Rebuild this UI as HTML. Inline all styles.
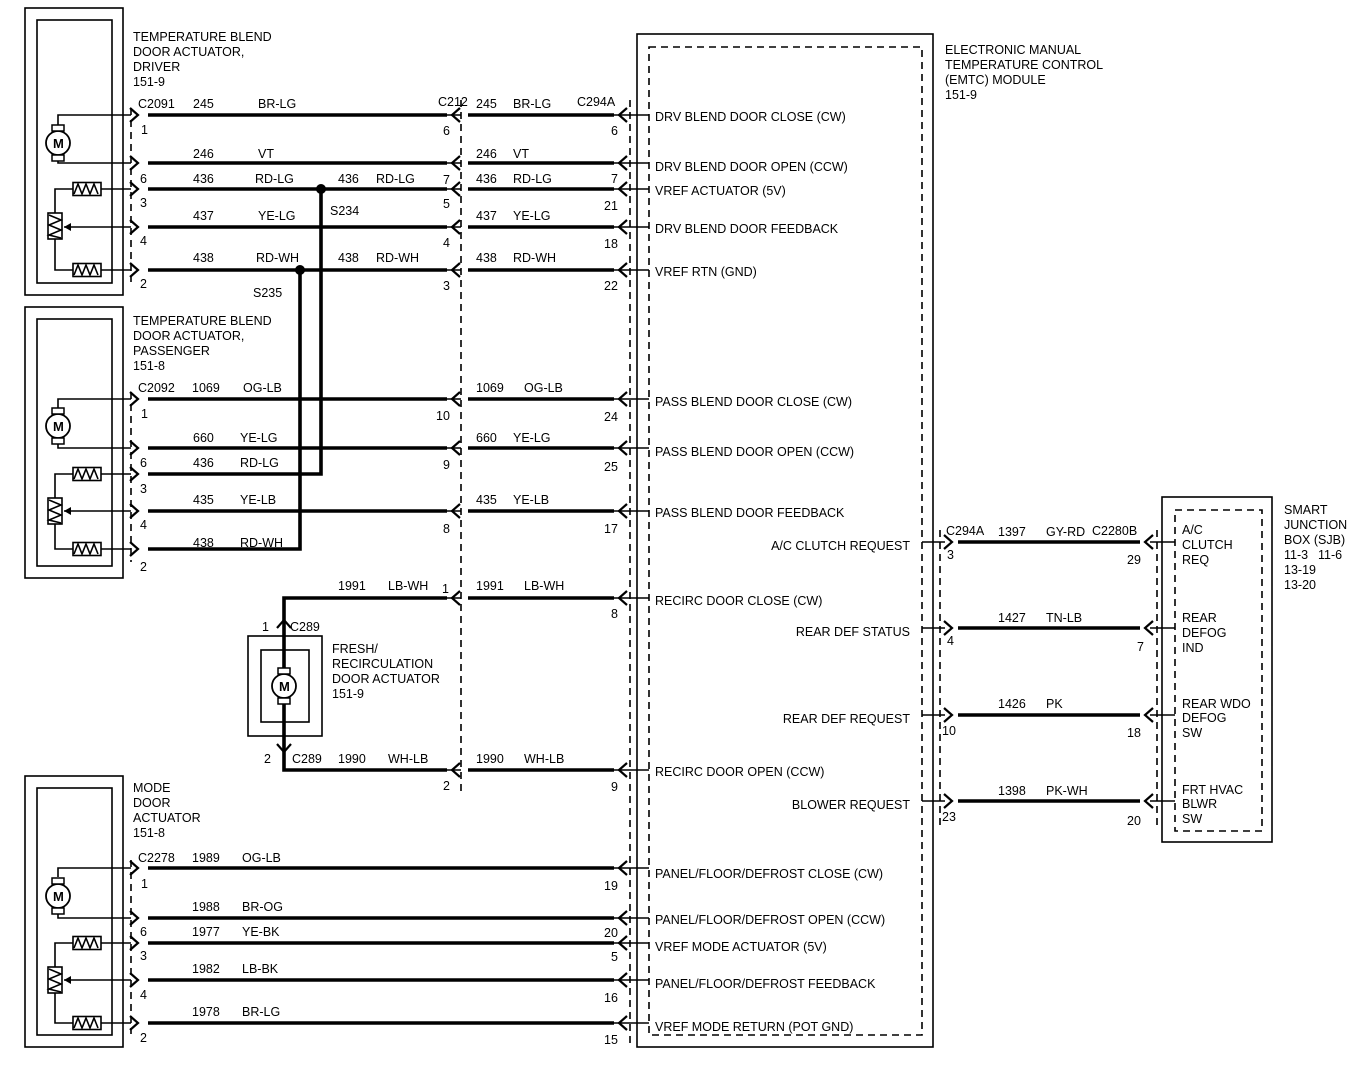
<!DOCTYPE html>
<html><head><meta charset="utf-8"><style>
html,body{margin:0;padding:0;background:#fff}
svg{display:block}
text{font-family:"Liberation Sans",sans-serif;font-size:12.5px;fill:#000}
.t{fill:none;stroke:#000;stroke-width:1.6}
.k{fill:none;stroke:#000;stroke-width:3.6}
.d{fill:none;stroke:#000;stroke-width:1.6;stroke-dasharray:7,5}
</style></head><body>
<svg width="1360" height="1072" viewBox="0 0 1360 1072" xmlns="http://www.w3.org/2000/svg">
<defs>
<path id="cr" d="M-5,-7 L3,0 L-5,7" fill="none" stroke="#000" stroke-width="2.2"/>
<path id="cl" d="M5,-7 L-3,0 L5,7" fill="none" stroke="#000" stroke-width="2.2"/>
<g id="mot"><circle cx="0" cy="0" r="12" fill="#fff" stroke="#000" stroke-width="1.8"/><rect x="-6" y="-18" width="12" height="6" fill="#fff" stroke="#000" stroke-width="1.5"/><rect x="-6" y="12" width="12" height="6" fill="#fff" stroke="#000" stroke-width="1.5"/><text x="-5" y="5" style="font-size:13px;font-weight:bold">M</text></g>
<g id="res"><rect x="-14" y="-6.5" width="28" height="13" fill="#fff" stroke="#000" stroke-width="1.6"/><path d="M-13,5 L-9,-5 L-5,5 L-1,-5 L3,5 L7,-5 L11,5" fill="none" stroke="#000" stroke-width="1.6"/></g>
<g id="pot"><rect x="-7" y="-13" width="14" height="26" fill="#fff" stroke="#000" stroke-width="1.6"/><path d="M-6,-11 L6,-6 L-6,-1 L6,4 L-6,9 L6,12" fill="none" stroke="#000" stroke-width="1.6"/></g>
</defs>

<!-- EMTC module -->
<rect x="637" y="34" width="296" height="1013" class="t"/>
<rect x="649" y="47" width="273" height="988" class="d"/>
<text x="945" y="54">ELECTRONIC MANUAL</text><text x="945" y="69">TEMPERATURE CONTROL</text><text x="945" y="84">(EMTC) MODULE</text><text x="945" y="99">151-9</text>

<!-- connector dashed lines -->
<line x1="630" y1="100" x2="630" y2="1044" class="d"/>
<line x1="461" y1="100" x2="461" y2="792" class="d"/>
<line x1="131" y1="108" x2="131" y2="282" class="d"/>
<line x1="131" y1="392" x2="131" y2="562" class="d"/>
<line x1="131" y1="860" x2="131" y2="1034" class="d"/>
<line x1="940" y1="530" x2="940" y2="830" class="d"/>
<line x1="1157" y1="530" x2="1157" y2="830" class="d"/>

<!-- ========== DRIVER ACTUATOR ========== -->
<rect x="25" y="8" width="98" height="287" class="t"/>
<rect x="37" y="20" width="75" height="263" class="t"/>
<text x="133" y="41">TEMPERATURE BLEND</text><text x="133" y="56">DOOR ACTUATOR,</text><text x="133" y="71">DRIVER</text><text x="133" y="86">151-9</text>
<path d="M58,125 V115 H131 M58,161 V163 H131" class="t"/>
<use href="#mot" x="58" y="143"/>
<path d="M101,189 H131 M73,189 H55 V213 M55,239 V270 H73 M101,270 H131 M131,227 H64" class="t"/>
<path d="M64,227 l7,-4 v8z"/>
<use href="#res" x="87" y="189"/><use href="#res" x="87" y="270"/><use href="#pot" x="55" y="226"/>

<!-- ========== PASSENGER ACTUATOR ========== -->
<rect x="25" y="307" width="98" height="271" class="t"/>
<rect x="37" y="319" width="75" height="247" class="t"/>
<text x="133" y="325">TEMPERATURE BLEND</text><text x="133" y="340">DOOR ACTUATOR,</text><text x="133" y="355">PASSENGER</text><text x="133" y="370">151-8</text>
<path d="M58,408 V399 H131 M58,444 V448 H131" class="t"/>
<use href="#mot" x="58" y="426"/>
<path d="M101,474 H131 M73,474 H55 V498 M55,524 V549 H73 M101,549 H131 M131,511 H64" class="t"/>
<path d="M64,511 l7,-4 v8z"/>
<use href="#res" x="87" y="474"/><use href="#res" x="87" y="549"/><use href="#pot" x="55" y="511"/>

<!-- ========== MODE ACTUATOR ========== -->
<rect x="25" y="776" width="98" height="271" class="t"/>
<rect x="37" y="788" width="75" height="247" class="t"/>
<text x="133" y="792">MODE</text><text x="133" y="807">DOOR</text><text x="133" y="822">ACTUATOR</text><text x="133" y="837">151-8</text>
<path d="M58,877 V868 H131 M58,914 V918 H131" class="t"/>
<use href="#mot" x="58" y="896"/>
<path d="M101,943 H131 M73,943 H55 V967 M55,993 V1023 H73 M101,1023 H131 M131,980 H64" class="t"/>
<path d="M64,980 l7,-4 v8z"/>
<use href="#res" x="87" y="943"/><use href="#res" x="87" y="1023"/><use href="#pot" x="55" y="980"/>

<!-- ===== wires: driver ===== -->
<g>
<path d="M148,115 H447 M468,115 H614 M148,163 H447 M468,163 H614 M148,189 H447 M468,189 H614 M148,227 H447 M468,227 H614 M148,270 H447 M468,270 H614" class="k"/>
<path d="M447,115 H461 M447,163 H461 M447,189 H461 M447,227 H461 M447,270 H461 M614,115 H649 M614,163 H649 M614,189 H649 M614,227 H649 M614,270 H649" class="t"/>
<use href="#cr" x="135" y="115"/><use href="#cr" x="135" y="163"/><use href="#cr" x="135" y="189"/><use href="#cr" x="135" y="227"/><use href="#cr" x="135" y="270"/>
<use href="#cl" x="455" y="115"/><use href="#cl" x="455" y="163"/><use href="#cl" x="455" y="189"/><use href="#cl" x="455" y="227"/><use href="#cl" x="455" y="270"/>
<use href="#cl" x="622" y="115"/><use href="#cl" x="622" y="163"/><use href="#cl" x="622" y="189"/><use href="#cl" x="622" y="227"/><use href="#cl" x="622" y="270"/>
</g>
<!-- splices -->
<path d="M321,189 V474 H148 M300,270 V549 H148" class="k"/>
<circle cx="321" cy="189" r="5"/><circle cx="300" cy="270" r="5"/>
<text x="330" y="215">S234</text><text x="253" y="297">S235</text>

<!-- ===== wires: passenger ===== -->
<path d="M148,399 H447 M468,399 H614 M148,448 H447 M468,448 H614 M148,511 H447 M468,511 H614" class="k"/>
<path d="M447,399 H461 M447,448 H461 M447,511 H461 M614,399 H649 M614,448 H649 M614,511 H649" class="t"/>
<use href="#cr" x="135" y="399"/><use href="#cr" x="135" y="448"/><use href="#cr" x="135" y="474"/><use href="#cr" x="135" y="511"/><use href="#cr" x="135" y="549"/>
<use href="#cl" x="455" y="399"/><use href="#cl" x="455" y="448"/><use href="#cl" x="455" y="511"/>
<use href="#cl" x="622" y="399"/><use href="#cl" x="622" y="448"/><use href="#cl" x="622" y="511"/>

<!-- ===== recirc ===== -->
<rect x="248" y="636" width="74" height="100" class="t"/>
<rect x="261" y="650" width="48" height="72" class="t"/>
<path d="M447,598 H284 V770 H447 M468,598 H614 M468,770 H614" class="k"/>
<path d="M447,598 H461 M447,770 H461 M614,598 H649 M614,770 H649" class="t"/>
<use href="#mot" x="284" y="686"/>
<path d="M277,628 L284,620 L291,628" fill="none" stroke="#000" stroke-width="2.2"/>
<path d="M277,744 L284,752 L291,744" fill="none" stroke="#000" stroke-width="2.2"/>
<use href="#cl" x="455" y="598"/><use href="#cl" x="455" y="770"/><use href="#cl" x="622" y="598"/><use href="#cl" x="622" y="770"/>
<text x="332" y="653">FRESH/</text><text x="332" y="668">RECIRCULATION</text><text x="332" y="683">DOOR ACTUATOR</text><text x="332" y="698">151-9</text>
<text x="262" y="631">1</text><text x="290" y="631">C289</text>
<text x="264" y="763">2</text><text x="292" y="763">C289</text>

<!-- ===== mode wires ===== -->
<path d="M148,868 H614 M148,918 H614 M148,943 H614 M148,980 H614 M148,1023 H614" class="k"/>
<path d="M614,868 H649 M614,918 H649 M614,943 H649 M614,980 H649 M614,1023 H649" class="t"/>
<use href="#cr" x="135" y="868"/><use href="#cr" x="135" y="918"/><use href="#cr" x="135" y="943"/><use href="#cr" x="135" y="980"/><use href="#cr" x="135" y="1023"/>
<use href="#cl" x="622" y="868"/><use href="#cl" x="622" y="918"/><use href="#cl" x="622" y="943"/><use href="#cl" x="622" y="980"/><use href="#cl" x="622" y="1023"/>

<!-- ===== right wires ===== -->
<rect x="1162" y="497" width="110" height="345" class="t"/>
<rect x="1175" y="510" width="87" height="321" class="d"/>
<path d="M958,542 H1140 M958,628 H1140 M958,715 H1140 M958,801 H1140" class="k"/>
<path d="M922,542 H945 M922,628 H945 M922,715 H945 M922,801 H945 M1150,542 H1175 M1150,628 H1175 M1150,715 H1175 M1150,801 H1175" class="t"/>
<use href="#cr" x="949" y="542"/><use href="#cr" x="949" y="628"/><use href="#cr" x="949" y="715"/><use href="#cr" x="949" y="801"/>
<use href="#cl" x="1148" y="542"/><use href="#cl" x="1148" y="628"/><use href="#cl" x="1148" y="715"/><use href="#cl" x="1148" y="801"/>

<!-- ===== labels: driver ===== -->
<text x="138" y="108">C2091</text><text x="193" y="108">245</text><text x="258" y="108">BR-LG</text>
<text x="438" y="106">C212</text><text x="476" y="108">245</text><text x="513" y="108">BR-LG</text><text x="577" y="106">C294A</text>
<text x="141" y="134">1</text><text x="443" y="135">6</text><text x="611" y="135">6</text>
<text x="193" y="158">246</text><text x="258" y="158">VT</text><text x="476" y="158">246</text><text x="513" y="158">VT</text>
<text x="140" y="183">6</text><text x="443" y="184">7</text><text x="611" y="183">7</text>
<text x="193" y="183">436</text><text x="255" y="183">RD-LG</text><text x="338" y="183">436</text><text x="376" y="183">RD-LG</text><text x="476" y="183">436</text><text x="513" y="183">RD-LG</text>
<text x="140" y="207">3</text><text x="443" y="208">5</text><text x="604" y="210">21</text>
<text x="193" y="220">437</text><text x="258" y="220">YE-LG</text><text x="476" y="220">437</text><text x="513" y="220">YE-LG</text>
<text x="140" y="245">4</text><text x="443" y="247">4</text><text x="604" y="248">18</text>
<text x="193" y="262">438</text><text x="256" y="262">RD-WH</text><text x="338" y="262">438</text><text x="376" y="262">RD-WH</text><text x="476" y="262">438</text><text x="513" y="262">RD-WH</text>
<text x="140" y="288">2</text><text x="443" y="290">3</text><text x="604" y="290">22</text>

<!-- labels: passenger -->
<text x="138" y="392">C2092</text><text x="192" y="392">1069</text><text x="243" y="392">OG-LB</text><text x="476" y="392">1069</text><text x="524" y="392">OG-LB</text>
<text x="141" y="418">1</text><text x="436" y="420">10</text><text x="604" y="421">24</text>
<text x="193" y="442">660</text><text x="240" y="442">YE-LG</text><text x="476" y="442">660</text><text x="513" y="442">YE-LG</text>
<text x="140" y="467">6</text><text x="443" y="469">9</text><text x="604" y="471">25</text>
<text x="193" y="467">436</text><text x="240" y="467">RD-LG</text><text x="140" y="493">3</text>
<text x="193" y="504">435</text><text x="240" y="504">YE-LB</text><text x="476" y="504">435</text><text x="513" y="504">YE-LB</text>
<text x="140" y="529">4</text><text x="443" y="533">8</text><text x="604" y="533">17</text>
<text x="193" y="547">438</text><text x="240" y="547">RD-WH</text><text x="140" y="571">2</text>

<!-- labels: recirc -->
<text x="338" y="590">1991</text><text x="388" y="590">LB-WH</text><text x="476" y="590">1991</text><text x="524" y="590">LB-WH</text>
<text x="442" y="593">1</text><text x="611" y="618">8</text>
<text x="338" y="763">1990</text><text x="388" y="763">WH-LB</text><text x="476" y="763">1990</text><text x="524" y="763">WH-LB</text>
<text x="443" y="790">2</text><text x="611" y="791">9</text>

<!-- labels: mode -->
<text x="138" y="862">C2278</text><text x="192" y="862">1989</text><text x="242" y="862">OG-LB</text>
<text x="141" y="888">1</text><text x="604" y="890">19</text>
<text x="192" y="911">1988</text><text x="242" y="911">BR-OG</text><text x="140" y="936">6</text><text x="604" y="937">20</text>
<text x="192" y="936">1977</text><text x="242" y="936">YE-BK</text><text x="140" y="960">3</text><text x="611" y="961">5</text>
<text x="192" y="973">1982</text><text x="242" y="973">LB-BK</text><text x="140" y="999">4</text><text x="604" y="1002">16</text>
<text x="192" y="1016">1978</text><text x="242" y="1016">BR-LG</text><text x="140" y="1042">2</text><text x="604" y="1044">15</text>

<!-- module labels -->
<text x="655" y="121">DRV BLEND DOOR CLOSE (CW)</text>
<text x="655" y="171">DRV BLEND DOOR OPEN (CCW)</text>
<text x="655" y="195">VREF ACTUATOR (5V)</text>
<text x="655" y="233">DRV BLEND DOOR FEEDBACK</text>
<text x="655" y="276">VREF RTN (GND)</text>
<text x="655" y="406">PASS BLEND DOOR CLOSE (CW)</text>
<text x="655" y="456">PASS BLEND DOOR OPEN (CCW)</text>
<text x="655" y="517">PASS BLEND DOOR FEEDBACK</text>
<text x="655" y="605">RECIRC DOOR CLOSE (CW)</text>
<text x="655" y="776">RECIRC DOOR OPEN (CCW)</text>
<text x="655" y="878">PANEL/FLOOR/DEFROST CLOSE (CW)</text>
<text x="655" y="924">PANEL/FLOOR/DEFROST OPEN (CCW)</text>
<text x="655" y="951">VREF MODE ACTUATOR (5V)</text>
<text x="655" y="988">PANEL/FLOOR/DEFROST FEEDBACK</text>
<text x="655" y="1031">VREF MODE RETURN (POT GND)</text>
<text x="910" y="550" text-anchor="end">A/C CLUTCH REQUEST</text>
<text x="910" y="636" text-anchor="end">REAR DEF STATUS</text>
<text x="910" y="723" text-anchor="end">REAR DEF REQUEST</text>
<text x="910" y="809" text-anchor="end">BLOWER REQUEST</text>

<!-- right wire labels -->
<text x="946" y="535">C294A</text><text x="998" y="536">1397</text><text x="1046" y="536">GY-RD</text><text x="1092" y="535">C2280B</text>
<text x="947" y="559">3</text><text x="1127" y="564">29</text>
<text x="998" y="622">1427</text><text x="1046" y="622">TN-LB</text><text x="947" y="645">4</text><text x="1137" y="651">7</text>
<text x="998" y="708">1426</text><text x="1046" y="708">PK</text><text x="942" y="735">10</text><text x="1127" y="737">18</text>
<text x="998" y="795">1398</text><text x="1046" y="795">PK-WH</text><text x="942" y="821">23</text><text x="1127" y="825">20</text>

<!-- SJB -->
<text x="1182" y="534">A/C</text><text x="1182" y="549">CLUTCH</text><text x="1182" y="564">REQ</text>
<text x="1182" y="622">REAR</text><text x="1182" y="637">DEFOG</text><text x="1182" y="652">IND</text>
<text x="1182" y="708">REAR WDO</text><text x="1182" y="722">DEFOG</text><text x="1182" y="737">SW</text>
<text x="1182" y="794">FRT HVAC</text><text x="1182" y="808">BLWR</text><text x="1182" y="823">SW</text>
<text x="1284" y="514">SMART</text><text x="1284" y="529">JUNCTION</text><text x="1284" y="544">BOX (SJB)</text>
<text x="1284" y="559">11-3</text><text x="1318" y="559">11-6</text><text x="1284" y="574">13-19</text><text x="1284" y="589">13-20</text>
</svg>
</body></html>
